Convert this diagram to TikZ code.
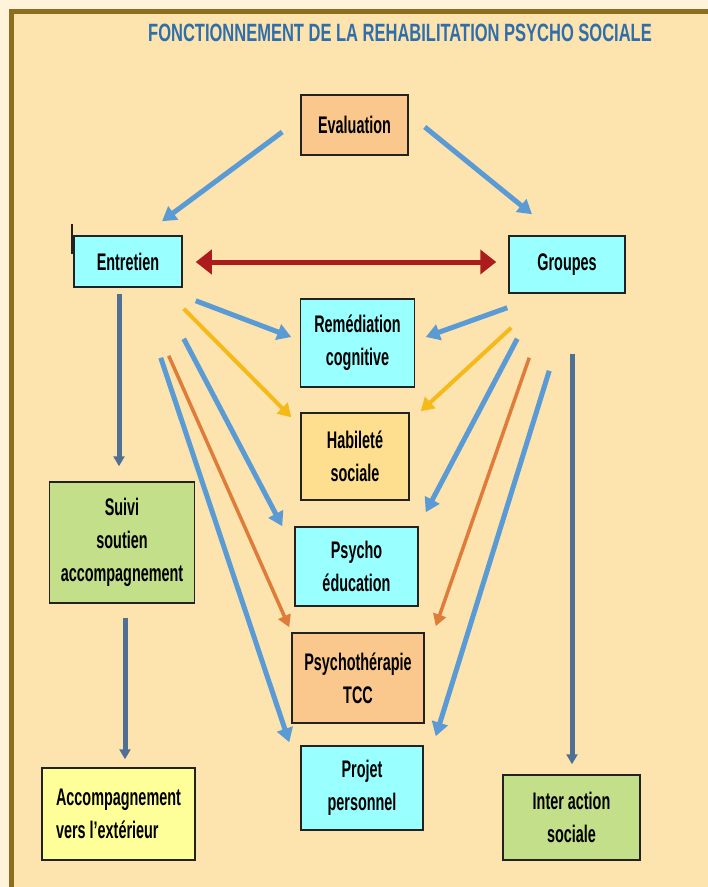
\documentclass[tikz,border=0pt]{standalone}
\usepackage{fontspec}
\setmainfont{Liberation Sans}
\newfontfamily\boxfont{Liberation Sans}[FakeStretch=0.6]
\newfontfamily\titlefont{Liberation Sans}[FakeStretch=0.66]
\usetikzlibrary{arrows.meta,calc,positioning}
\definecolor{pagecream}{HTML}{FFF3DA}
\definecolor{panel}{HTML}{FDE3AE}
\definecolor{frame}{HTML}{8B6F1E}
\definecolor{titleblue}{HTML}{2F6EAB}
\definecolor{boxline}{HTML}{222222}
\definecolor{cyanbox}{HTML}{99FFFF}
\definecolor{orangebox}{HTML}{FAC88C}
\definecolor{sandbox}{HTML}{FDDF8F}
\definecolor{greenbox}{HTML}{C3DF8A}
\definecolor{yellowbox}{HTML}{FFFF99}
\definecolor{arblue}{HTML}{5B9BD5}
\definecolor{ardark}{HTML}{4F7094}
\definecolor{arred}{HTML}{AC1C1C}
\definecolor{aryellow}{HTML}{F5B91A}
\definecolor{arorange}{HTML}{E07C3A}
\tikzset{
	rb/.style 2 args={draw=boxline, line width=1.5pt, align=center, inner sep=0pt,
		minimum width=#1, minimum height=#2,
		font=\boxfont\bfseries\fontsize{24}{33}\selectfont},
	ar/.style={line width=5pt, draw=#1},
	arb/.style={ar=arblue, -{Triangle[width=16pt,length=14pt]}},
	ary/.style={line width=4pt, draw=aryellow, -{Triangle[width=15pt,length=13pt]}},
	aro/.style={line width=3.5pt, draw=arorange, -{Triangle[width=13pt,length=12pt]}},
	ard/.style={ar=ardark, -{Triangle[width=11pt,length=10pt]}},
	arr/.style={ar=arred, {Triangle[width=24pt,length=16pt]}-{Triangle[width=24pt,length=16pt]}}
}
\begin{document}
\begin{tikzpicture}[x=1pt, y=-1pt]
   \useasboundingbox (0,0) rectangle (708,887);
   \clip (0,0) rectangle (708,887);
   \fill[pagecream] (0,0) rectangle (708,887);
   \filldraw[fill=panel, draw=frame, line width=5pt] (11.5,11.5) rectangle (730,910);
   \node[font=\titlefont\bfseries\fontsize{25}{25}\selectfont, text=titleblue] (T) at (400,33)
      {FONCTIONNEMENT DE LA REHABILITATION PSYCHO SOCIALE};
   % boxes
   \node[rb={107pt}{60pt}, fill=orangebox] (Ev) at (354.5,125) {Evaluation};
   \node[rb={108pt}{51pt}, fill=cyanbox] (En) at (128,261.5) {Entretien};
   \node[rb={116pt}{57pt}, fill=cyanbox] (Gr) at (567,264.5) {Groupes};
   \node[rb={114pt}{88pt}, fill=cyanbox] (Rc) at (357.5,343) {Remédiation\\cognitive};
   \node[rb={108pt}{87pt}, fill=sandbox] (Hs) at (355,456.5) {Habileté\\sociale};
   \node[rb={123pt}{79pt}, fill=cyanbox] (Pe) at (356.5,566.5) {Psycho\\éducation};
   \node[rb={132pt}{90pt}, fill=orangebox] (Pt) at (358,678) {Psychothérapie\\TCC};
   \node[rb={122pt}{84pt}, fill=cyanbox] (Pp) at (362,788) {Projet\\personnel};
   \node[rb={145pt}{121pt}, fill=greenbox] (Su) at (122,542.5) {Suivi\\soutien\\accompagnement};
   \node[rb={153pt}{92pt}, fill=yellowbox, align=left] (Ac) at (118.5,814)
      {Accompagnement\\vers l’extérieur};
   \node[rb={137pt}{85pt}, fill=greenbox] (Ia) at (571.5,817.5) {Inter action\\sociale};
   \draw[boxline, line width=2pt] ($(En.north west)+(-1,-11)$) -- ($(En.west)+(-1,-8)$);
   % connectors
   \draw[arb] ($(Ev.west)+(-18,7)$) -- ($(En.north)+(34,-14)$);
   \draw[arb] ($(Ev.east)+(16,2)$) -- ($(Gr.north)+(-35,-21)$);
   \draw[arr] ($(En.east)+(13,0.5)$) -- ($(Gr.west)+(-12,-2.5)$);
   \draw[arb] ($(En.south east)+(13,13)$) -- ($(Rc.west)+(-8.5,-6)$);
   \draw[arb] ($(Gr.south west)+(-1,14)$) -- ($(Rc.east)+(10.5,-6)$);
   \draw[ary] ($(En.south east)+(1,21)$) -- ($(Hs.north west)+(-9,5)$);
   \draw[ary] ($(Gr.south west)+(3,34)$) -- ($(Hs.north east)+(11,-1)$);
   \draw[arb] ($(En.south east)+(1,51)$) -- ($(Pe.north west)+(-12,0)$);
   \draw[arb] ($(Gr.south west)+(9,45)$) -- ($(Pe.north east)+(7,-14)$);
   \draw[aro] ($(En.south east)+(-14,68)$) -- ($(Pt.north west)+(-2,-5)$);
   \draw[aro] ($(Gr.south west)+(21,64)$) -- ($(Pt.north east)+(11,-6)$);
   \draw[arb] ($(En.south east)+(-22,70)$) -- ($(Pp.north west)+(-11,-3)$);
   \draw[arb] ($(Gr.south west)+(41,77)$) -- ($(Pp.north east)+(12,-9)$);
   \draw[ard] ($(En.south)+(-9,6)$) -- ($(Su.north)+(-3,-15)$);
   \draw[ard] ($(Su.south)+(3,14)$) -- ($(Ac.north)+(6.5,-8)$);
   \draw[ard] ($(Gr.south)+(5,60)$) -- ($(Ia.north)+(0.5,-10)$);
\end{tikzpicture}
\end{document}
